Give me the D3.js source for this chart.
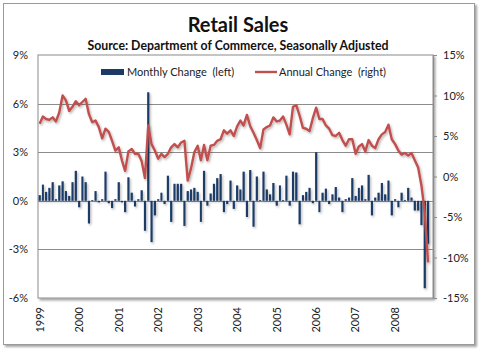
<!DOCTYPE html>
<html><head><meta charset="utf-8">
<script src="https://cdn.jsdelivr.net/npm/d3@7"></script>
<style>
html,body{margin:0;padding:0;background:#fff;}
svg{display:block;font-family:Lato,"Open Sans",sans-serif;}
</style></head><body>
<svg id="chart" width="480" height="351"></svg>
<script>
const title = "Retail Sales";
const subtitle = "Source: Department of Commerce, Seasonally Adjusted";
const seriesNames = ["Monthly Change  (left)", "Annual Change  (right)"];
const startYear = 1999, startMonth = 0;   // first category: Jan 1999
const yearLabels = ["1999","2000","2001","2002","2003","2004","2005","2006","2007","2008"];
const leftTicks = [-6, -3, 0, 3, 6, 9];
const rightTicks = [-15, -10, -5, 0, 5, 10, 15];
// Monthly % change (left axis), Jan 1999 .. Nov 2008
const monthlyChange = [
 0.35,1.0,0.55,0.8,1.15,0.1,0.95,1.2,0.6,0.3,1.15,1.85,
 -0.4,1.5,1.15,-1.4,0.05,0.6,-0.1,0.1,1.8,-0.15,-0.45,0.1,
 1.15,-0.1,-0.7,1.45,0.5,-0.35,0.1,0.65,-1.85,6.7,-2.55,-0.9,
 0.1,0.5,-0.2,1.55,-1.3,1.05,1.05,1.05,-1.55,0.6,0.7,0.8,
 0.55,-1.3,1.85,-0.3,0.45,1.05,1.4,1.65,-0.7,-0.2,1.25,-0.5,
 0.95,0.7,1.8,-1.0,1.9,-1.6,1.5,0.05,1.8,0.7,0.4,1.1,
 -0.3,0.95,0.05,1.55,-0.3,1.8,1.75,-1.45,0.35,0.55,0.8,-0.15,
 3.0,-0.7,0.5,0.75,-0.2,0.4,0.85,0.2,-0.7,0.1,0.2,1.4,
 0.3,0.8,0.95,0.1,1.6,-0.9,0.2,0.5,1.1,0.4,1.25,-0.9,
 0.1,-0.4,0.5,0.05,0.8,0.2,-0.6,-0.6,-1.5,-5.4,-2.65
];
// Annual % change (right axis)
const annualChange = [
 6.5,7.4,7.1,7.0,7.3,6.8,7.9,10.0,9.4,8.1,8.6,9.3,
 8.8,9.2,9.6,7.7,6.7,6.9,6.1,4.7,5.9,5.5,4.4,3.2,
 3.6,2.0,0.7,3.1,3.4,2.8,2.8,1.9,-0.2,6.3,4.0,3.2,
 2.2,2.8,2.4,2.8,3.6,4.0,3.6,4.2,4.4,-0.5,1.0,3.0,
 3.8,2.0,3.9,2.0,3.8,3.9,4.4,4.6,5.7,5.3,5.7,5.0,
 6.2,6.9,6.3,7.6,6.2,5.4,4.5,3.5,5.8,6.1,6.3,7.3,
 6.8,6.9,7.4,6.4,5.2,8.6,8.8,7.5,6.0,5.9,5.6,7.2,
 8.5,7.1,7.1,6.3,5.9,5.1,5.0,5.4,4.5,3.8,4.6,4.6,
 2.8,3.7,4.0,3.1,4.5,3.8,3.5,4.6,5.2,5.5,6.4,4.6,
 4.0,3.2,2.7,2.9,2.6,2.9,2.0,1.1,-1.1,-4.4,-10.6
];

const barColor = "#1B3A66", lineColor = "#C0504D", gridColor = "#8C8C8C";
const svg = d3.select("#chart");
const defs = svg.append("defs");
const sh = defs.append("filter").attr("id","shadow").attr("x","-20%").attr("y","-20%").attr("width","140%").attr("height","140%");
sh.append("feDropShadow").attr("dx",1.2).attr("dy",1.5).attr("stdDeviation",0.9).attr("flood-color","#000").attr("flood-opacity",0.3);
const fsh = defs.append("filter").attr("id","frameShadow").attr("x","-5%").attr("y","-5%").attr("width","110%").attr("height","110%");
fsh.append("feDropShadow").attr("dx",2).attr("dy",2).attr("stdDeviation",1.2).attr("flood-color","#000").attr("flood-opacity",0.35);

// outer frame
svg.append("rect").attr("x",3.5).attr("y",3.5).attr("width",471).attr("height",341)
  .attr("fill","#fff").attr("stroke","#9a9a9a").attr("filter","url(#frameShadow)");

const L = 38, R = 433, T = 55, B = 298;
const dates = monthlyChange.map((_, i) => new Date(Date.UTC(startYear, startMonth + i, 1)));
const x = d3.scaleUtc().domain([new Date(Date.UTC(startYear,0,1)), new Date(Date.UTC(startYear + yearLabels.length,0,1))]).range([L, R]);
const yL = d3.scaleLinear().domain([-6, 9]).range([B, T]);
const yR = d3.scaleLinear().domain([-15, 15]).range([B, T]);
const monthStart = d => x(d);
const monthEnd = d => x(new Date(Date.UTC(d.getUTCFullYear(), d.getUTCMonth() + 1, 1)));
const monthMid = d => (monthStart(d) + monthEnd(d)) / 2;

// plot area
svg.append("rect").attr("x",L).attr("y",T).attr("width",R-L).attr("height",B-T)
  .attr("fill","#fff").attr("stroke",gridColor).attr("filter","url(#frameShadow)");

// gridlines
svg.append("g").selectAll("line").data(leftTicks.filter(t => t > -6 && t < 9)).join("line")
  .attr("x1",L).attr("x2",R).attr("y1",d => Math.round(yL(d))+0.5).attr("y2",d => Math.round(yL(d))+0.5)
  .attr("stroke",gridColor).attr("stroke-width",1);

// bars
const gBars = svg.append("g").attr("filter","url(#shadow)");
gBars.selectAll("rect").data(monthlyChange).join("rect")
  .attr("x",(d,i) => { const s = monthStart(dates[i]), e = monthEnd(dates[i]); return s + (e - s) * 0.18; })
  .attr("width",(d,i) => (monthEnd(dates[i]) - monthStart(dates[i])) * 0.66)
  .attr("y",d => yL(Math.max(0,d)))
  .attr("height",d => Math.abs(yL(d) - yL(0)))
  .attr("fill",barColor);

// line
const line = d3.line().x((d,i) => monthMid(dates[i])).y(d => yR(d)).curve(d3.curveLinear);
svg.append("path").datum(annualChange).attr("d",line).attr("fill","none")
  .attr("stroke",lineColor).attr("stroke-width",2.4).attr("stroke-linejoin","round")
  .attr("filter","url(#shadow)");

// left axis
const axisL = d3.axisLeft(yL).tickValues(leftTicks).tickSize(0).tickPadding(10).tickFormat(d => d + "%");
const gL = svg.append("g").attr("transform",`translate(${L},0)`).call(axisL);
gL.select(".domain").remove();
gL.selectAll("text").attr("font-family","Lato,'Open Sans',sans-serif").attr("font-size",11).attr("fill","#222");

// right axis
const axisR = d3.axisRight(yR).tickValues(rightTicks).tickSize(4).tickPadding(6).tickFormat(d => d + "%");
const gR = svg.append("g").attr("transform",`translate(${R},0)`).call(axisR);
gR.select(".domain").attr("stroke",gridColor);
gR.selectAll(".tick line").attr("stroke",gridColor);
gR.selectAll("text").attr("font-family","Lato,'Open Sans',sans-serif").attr("font-size",11).attr("fill","#222");

// x axis labels (rotated)
const yearDates = yearLabels.map(y => new Date(Date.UTC(+y, 0, 1)));
svg.append("g").selectAll("text").data(yearLabels).join("text")
  .attr("transform",(d,i) => `translate(${monthMid(yearDates[i])},307) rotate(-90)`)
  .attr("text-anchor","end").attr("dy","0.35em")
  .attr("font-size",11).attr("fill","#222").text(d => d);

// title
svg.append("text").attr("x",238).attr("y",32).attr("text-anchor","middle")
  .attr("font-size",20).attr("font-weight","bold").attr("fill","#111").text(title);
svg.append("text").attr("x",238).attr("y",50).attr("text-anchor","middle")
  .attr("font-size",12.3).attr("font-weight","bold").attr("fill","#111").text(subtitle);

// legend
const lg = svg.append("g");
lg.append("rect").attr("x",101).attr("y",69).attr("width",23).attr("height",6).attr("fill",barColor);
lg.append("text").attr("x",127).attr("y",76).attr("font-size",11).attr("fill","#222")
  .style("white-space","pre").text(seriesNames[0]);
lg.append("line").attr("x1",255).attr("x2",277).attr("y1",72).attr("y2",72)
  .attr("stroke",lineColor).attr("stroke-width",2.4);
lg.append("text").attr("x",279).attr("y",76).attr("font-size",11).attr("fill","#222")
  .style("white-space","pre").text(seriesNames[1]);
</script>
</body></html>
